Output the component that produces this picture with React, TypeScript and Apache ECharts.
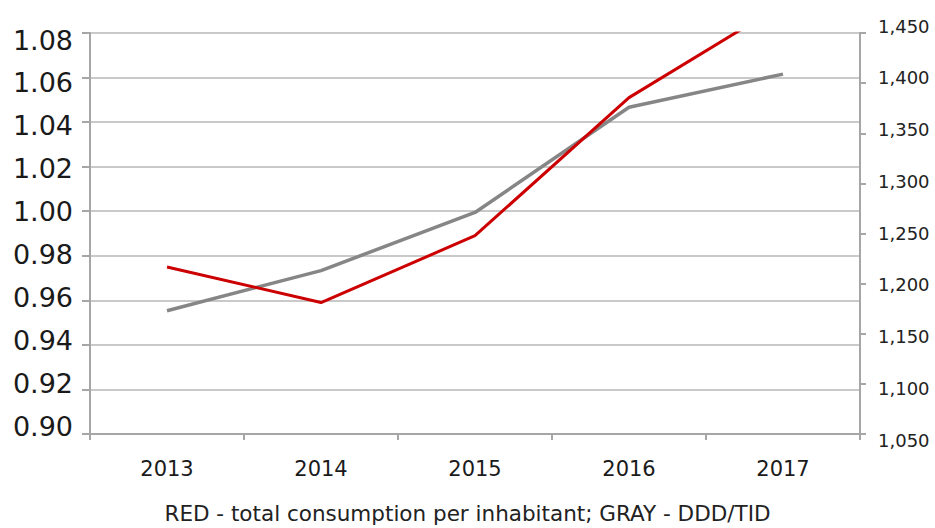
import React, { useEffect, useRef } from "react";
import * as echarts from "echarts";

const years = ["2013", "2014", "2015", "2016", "2017"];
const redValues = [0.975, 0.959, 0.989, 1.051, 1.093];
const grayValues = [1173, 1213, 1271, 1376, 1409];
const leftAxis = { min: 0.9, max: 1.08, interval: 0.02 };
const rightAxis = { min: 1050, max: 1450, interval: 50 };
const caption = "RED - total consumption per inhabitant; GRAY - DDD/TID";

export default function App() {
  const ref = useRef<HTMLDivElement>(null);
  useEffect(() => {
    if (!ref.current) return;
    const chart = echarts.init(ref.current, undefined, { renderer: "svg" });
    const axisColor = "#a6a6a6";
    const font = "DejaVu Sans";
    chart.setOption({
      animation: false,
      backgroundColor: "#ffffff",
      title: {
        text: caption,
        left: "center",
        top: 501,
        padding: 0,
        textStyle: {
          fontFamily: font,
          fontSize: 21.5,
          lineHeight: 24,
          fontWeight: "normal",
          color: "#222",
        },
      },
      grid: [
        { left: 90, right: 75, top: 33, bottom: 94 },
        { left: 90, right: 75, top: 40, bottom: 102 },
        { left: 90, right: 75, top: 26, bottom: 88 },
      ],
      xAxis: [
        {
          type: "category",
          data: years,
          gridIndex: 0,
          boundaryGap: true,
          axisLine: { show: true, lineStyle: { color: axisColor, width: 2 } },
          axisTick: { show: true, length: 6, lineStyle: { color: axisColor, width: 2 } },
          axisLabel: { fontFamily: font, fontSize: 21, color: "#1a1a1a", margin: 24 },
          splitLine: { show: false },
        },
        { type: "value", gridIndex: 1, show: false, min: 0, max: 1 },
        { type: "value", gridIndex: 2, show: false, min: 0, max: 1 },
      ],
      yAxis: [
        {
          type: "value",
          gridIndex: 0,
          position: "left",
          min: leftAxis.min,
          max: leftAxis.max,
          interval: leftAxis.interval,
          axisLine: { show: true, lineStyle: { color: axisColor, width: 2 } },
          axisTick: { show: true, length: 8, lineStyle: { color: axisColor, width: 2 } },
          axisLabel: { show: false },
          splitLine: { show: true, lineStyle: { color: "#c9c9c9", width: 2 } },
        },
        {
          type: "value",
          gridIndex: 0,
          position: "right",
          min: rightAxis.min,
          max: rightAxis.max,
          interval: rightAxis.interval,
          axisLine: { show: true, lineStyle: { color: axisColor, width: 2 } },
          axisTick: { show: true, length: 6, lineStyle: { color: axisColor, width: 2 } },
          axisLabel: { show: false },
          splitLine: { show: false },
        },
        {
          type: "value",
          gridIndex: 1,
          position: "left",
          min: leftAxis.min,
          max: leftAxis.max,
          interval: leftAxis.interval,
          axisLine: { show: false },
          axisTick: { show: false },
          splitLine: { show: false },
          axisLabel: {
            fontFamily: font,
            fontSize: 27,
            color: "#1a1a1a",
            margin: 17,
            formatter: (v: number) => v.toFixed(2),
          },
        },
        {
          type: "value",
          gridIndex: 2,
          position: "right",
          min: rightAxis.min,
          max: rightAxis.max,
          interval: rightAxis.interval,
          axisLine: { show: false },
          axisTick: { show: false },
          splitLine: { show: false },
          axisLabel: {
            fontFamily: font,
            fontSize: 18,
            color: "#222",
            margin: 18,
            formatter: (v: number) => v.toLocaleString("en-US"),
          },
        },
      ],
      series: [
        {
          name: "DDD/TID",
          type: "line",
          xAxisIndex: 0,
          yAxisIndex: 1,
          data: grayValues,
          showSymbol: false,
          symbol: "none",
          lineStyle: { color: "#868686", width: 3.5 },
          z: 3,
        },
        {
          name: "total consumption per inhabitant",
          type: "line",
          xAxisIndex: 0,
          yAxisIndex: 0,
          data: redValues,
          showSymbol: false,
          symbol: "none",
          clip: true,
          lineStyle: { color: "#cc0000", width: 3 },
          z: 4,
        },
      ],
    });
    return () => chart.dispose();
  }, []);
  return (
    <div
      ref={ref}
      style={{ position: "fixed", left: 0, top: 0, width: 935, height: 528 }}
    />
  );
}
